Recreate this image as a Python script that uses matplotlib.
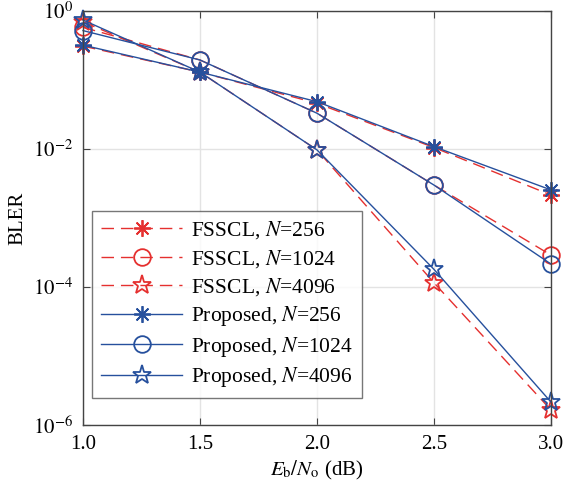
import matplotlib
matplotlib.use("Agg")
import matplotlib.pyplot as plt
import numpy as np

snr = [1.0, 1.5, 2.0, 2.5, 3.0]
fsscl_256 = [0.31, 0.13, 0.046, 0.0105, 0.00215]
fsscl_1024 = [0.58, 0.195, 0.033, 0.0030, 2.9e-4]
fsscl_4096 = [0.70, 0.13, 0.0097, 1.15e-4, 1.65e-6]
prop_256 = [0.32, 0.13, 0.0485, 0.0108, 0.00255]
prop_1024 = [0.52, 0.195, 0.033, 0.0030, 2.15e-4]
prop_4096 = [0.74, 0.13, 0.0097, 1.8e-4, 2.15e-6]

red = '#E5302F'
blue = '#26509D'

plt.rcParams['font.family'] = ['Liberation Serif', 'DejaVu Serif']
plt.rcParams['mathtext.fontset'] = 'stix'

fig = plt.figure(figsize=(5.64, 4.91), dpi=100)
ax = fig.add_axes([83/564, 1-425/491, (551-83)/564, (425-11)/491])

dash = (0, (9, 5))
ms = 12
ast = (8, 2, 0)
common = dict(lw=1.0, mew=1.3, clip_on=False)
ax.semilogy(snr, fsscl_256, color=red, linestyle=dash, marker=ast, ms=ms, **common,
            label='FSSCL, $\\mathit{N}$=256')
ax.semilogy(snr, fsscl_1024, color=red, linestyle=dash, marker='o', ms=ms, mfc='none', **common,
            label='FSSCL, $\\mathit{N}$=1024')
ax.semilogy(snr, fsscl_4096, color=red, linestyle=dash, marker='*', ms=ms+2, mfc='none', **common,
            label='FSSCL, $\\mathit{N}$=4096')
ax.semilogy(snr, prop_256, color=blue, linestyle='-', marker=ast, ms=ms, **common,
            label='Proposed, $\\mathit{N}$=256')
ax.semilogy(snr, prop_1024, color=blue, linestyle='-', marker='o', ms=ms, mfc='none', **common,
            label='Proposed, $\\mathit{N}$=1024')
ax.semilogy(snr, prop_4096, color=blue, linestyle='-', marker='*', ms=ms+2, mfc='none', **common,
            label='Proposed, $\\mathit{N}$=4096')

ax.set_xlim(1.0, 3.0)
ax.set_ylim(1e-6, 1e0)
ax.set_xticks([1.0, 1.5, 2.0, 2.5, 3.0])
ax.set_xticklabels(['1.0', '1.5', '2.0', '2.5', '3.0'])
ax.set_yticks([1e-6, 1e-4, 1e-2, 1e0])
ax.set_yticklabels(['$10^{-6}$', '$10^{-4}$', '$10^{-2}$', '$10^{0}$'])
ax.minorticks_off()
ax.grid(True, color='#E3E3E3', lw=1.0)
ax.set_axisbelow(True)
ax.tick_params(direction='in', top=True, right=True, labelsize=15, length=5, color='#444444', pad=7)
for s in ax.spines.values():
    s.set_color('#444444')
    s.set_linewidth(1.0)

ax.set_xlabel('$\\mathit{E}_{\\mathrm{b}}/\\mathit{N}_{\\mathrm{o}}$ (dB)', fontsize=15, labelpad=4)
ax.set_ylabel('BLER', fontsize=15, labelpad=4)

leg = ax.legend(loc='lower left', bbox_to_anchor=(9/468, 27/414), fontsize=15.5, frameon=True,
                fancybox=False, edgecolor='#555555', handlelength=3.8, labelspacing=0.3,
                borderpad=0.4, handletextpad=0.4, borderaxespad=0.0)
leg.get_frame().set_linewidth(1.0)

fig.savefig('out.png', dpi=100)
